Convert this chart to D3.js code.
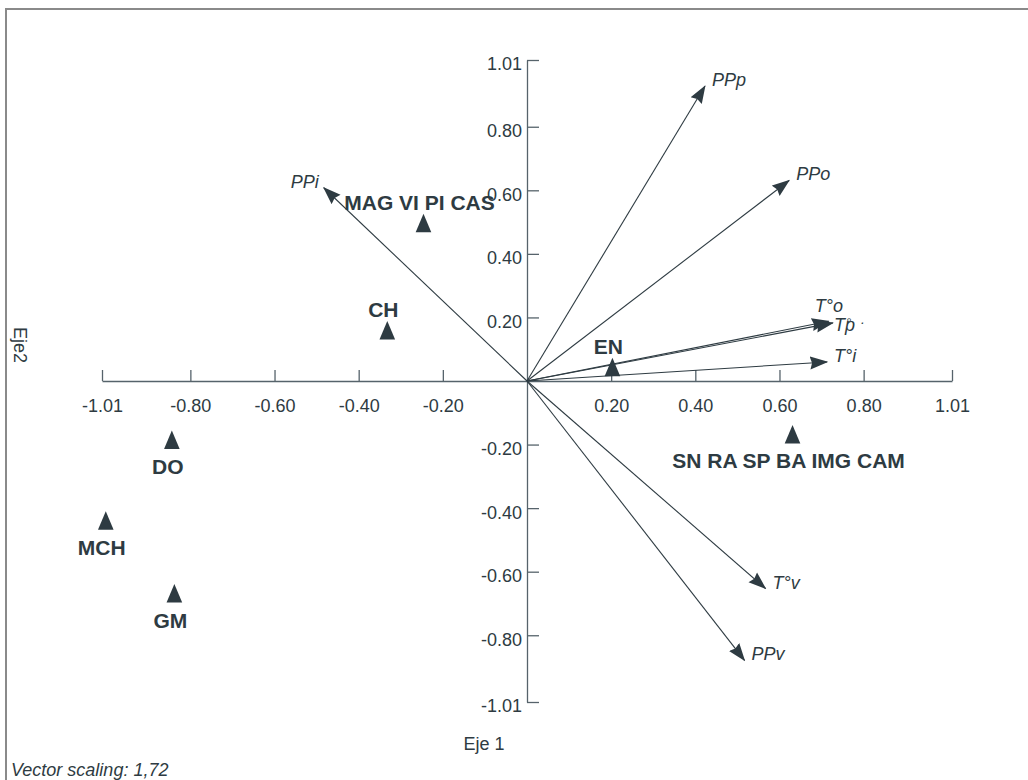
<!DOCTYPE html>
<html><head><meta charset="utf-8">
<script src="https://cdn.jsdelivr.net/npm/d3@7"></script>
<style>
html,body{margin:0;padding:0;background:#fff;}
svg{display:block;font-family:"Liberation Sans",Arial,sans-serif;}
</style></head>
<body>
<svg id="chart" width="1028" height="780"></svg>
<script>
// ---- data ----
const xTicks = [-1.01, -0.80, -0.60, -0.40, -0.20, 0.20, 0.40, 0.60, 0.80, 1.01];
const yTicks = [-1.01, -0.80, -0.60, -0.40, -0.20, 0.20, 0.40, 0.60, 0.80, 1.01];

const vectorNames = ["PPp", "PPo", "PPi", "T°o", "Tp", "T°i", "T°v", "PPv"];
const vectorX     = [0.423, 0.623, -0.483, 0.717, 0.727, 0.713, 0.567, 0.517];
const vectorY     = [0.928, 0.631, 0.608, 0.188, 0.183, 0.060, -0.653, -0.879];

const siteNames = ["MAG VI PI CAS", "CH", "EN", "SN RA SP BA IMG CAM", "DO", "MCH", "GM"];
const siteX     = [-0.246, -0.332, 0.203, 0.631, -0.844, -1.001, -0.838];
const siteY     = [0.496, 0.159, 0.043, -0.168, -0.186, -0.440, -0.669];

const xTitle = "Eje 1";
const yTitle = "Eje2";
const footnote = "Vector scaling: 1,72";

// ---- layout (not data) ----
const siteLabelSide = {"MAG VI PI CAS":"above","CH":"above","EN":"above"};
const vecLabelPlace = {
  "PPi": {dx:-5, dy:0, anchor:"end"},
  "T°o": {dx:-14, dy:-9, anchor:"start"},
  "Tp":  {dx:1, dy:8, anchor:"start"}
};

const ink = "#2e3b42";
const axisCol = "#56636b";
const svg = d3.select("#chart");

// frame
svg.append("rect").attr("x",6).attr("y",9).attr("width",1040).attr("height",800)
  .attr("fill","none").attr("stroke","#8a8a8a").attr("stroke-width",2);

const x = d3.scaleLinear().domain([-1.01,1.01]).range([102,952]);
const y = d3.scaleLinear().domain([-1.01,1.01]).range([702,60]);
const fmt = d3.formatLocale({decimal:".", thousands:",", grouping:[3], currency:["",""], minus:"-"}).format(".2f");

// x axis
const gx = svg.append("g").attr("transform",`translate(0,${y(0)})`)
  .call(d3.axisBottom(x).tickValues(xTicks).tickFormat(fmt).tickSizeInner(-11).tickSizeOuter(0).tickPadding(18));
// y axis
const gy = svg.append("g").attr("transform",`translate(${x(0)},0)`)
  .call(d3.axisLeft(y).tickValues(yTicks).tickFormat(fmt).tickSizeInner(-12).tickSizeOuter(0).tickPadding(5));

[gx,gy].forEach(g=>{
  g.select(".domain").attr("stroke",axisCol).attr("stroke-width",1.3);
  g.selectAll(".tick line").attr("stroke",axisCol).attr("stroke-width",1.3);
  g.selectAll(".tick text").attr("fill",ink).attr("font-size",18)
    .attr("font-family","'Liberation Sans',Arial,sans-serif");
});
gy.selectAll(".tick text").attr("dy","0.55em");

// arrow marker
svg.append("defs").append("marker")
  .attr("id","ah").attr("viewBox","0 -7 18 14").attr("refX",17).attr("refY",0)
  .attr("markerUnits","userSpaceOnUse").attr("markerWidth",18).attr("markerHeight",14)
  .attr("orient","auto")
  .append("path").attr("d","M0,-6.5L18,0L0,6.5L2,0Z").attr("fill",ink);

const vectors = vectorNames.map((n,i)=>({name:n, vx:vectorX[i], vy:vectorY[i]}));
svg.append("g").selectAll("line").data(vectors).join("line")
  .attr("x1",x(0)).attr("y1",y(0))
  .attr("x2",d=>x(d.vx)).attr("y2",d=>y(d.vy))
  .attr("stroke",ink).attr("stroke-width",1.1).attr("marker-end","url(#ah)");

const vl = svg.append("g").attr("font-style","italic").attr("font-size",18).attr("fill",ink);
vectors.forEach(d=>{
  const p = vecLabelPlace[d.name] || {dx:7, dy:0, anchor:"start"};
  vl.append("text").attr("x",x(d.vx)+p.dx).attr("y",y(d.vy)+p.dy)
    .attr("text-anchor",p.anchor).text(d.name);
  if(d.name==="Tp"){
    vl.append("text").attr("x",x(d.vx)+p.dx+12).attr("y",y(d.vy)+p.dy-4)
      .attr("font-size",13).text("°");
    vl.append("text").attr("x",x(d.vx)+p.dx+26).attr("y",y(d.vy)+p.dy-4)
      .attr("font-size",14).text("·");
  }
});

// sites
const sites = siteNames.map((n,i)=>({name:n, sx:siteX[i], sy:siteY[i]}));
const tri = "M0,-9.5L7.8,9L-7.8,9Z";
svg.append("g").selectAll("path").data(sites).join("path")
  .attr("d",tri).attr("transform",d=>`translate(${x(d.sx)},${y(d.sy)})`)
  .attr("fill",ink);
svg.append("g").attr("font-weight","bold").attr("font-size",21).attr("fill",ink)
  .attr("text-anchor","middle")
  .selectAll("text").data(sites).join("text")
  .attr("x",d=>x(d.sx)-4)
  .attr("y",d=>siteLabelSide[d.name]==="above" ? y(d.sy)-13 : y(d.sy)+34)
  .text(d=>d.name);

// titles
svg.append("text").attr("x",484).attr("y",750).attr("text-anchor","middle")
  .attr("font-size",18).attr("fill",ink).text(xTitle);
svg.append("text").attr("transform","translate(14,345) rotate(90)").attr("text-anchor","middle")
  .attr("font-size",18).attr("fill",ink).text(yTitle);
svg.append("text").attr("x",11).attr("y",776).attr("font-style","italic")
  .attr("font-size",18).attr("fill",ink).text(footnote);
</script>
</body></html>
